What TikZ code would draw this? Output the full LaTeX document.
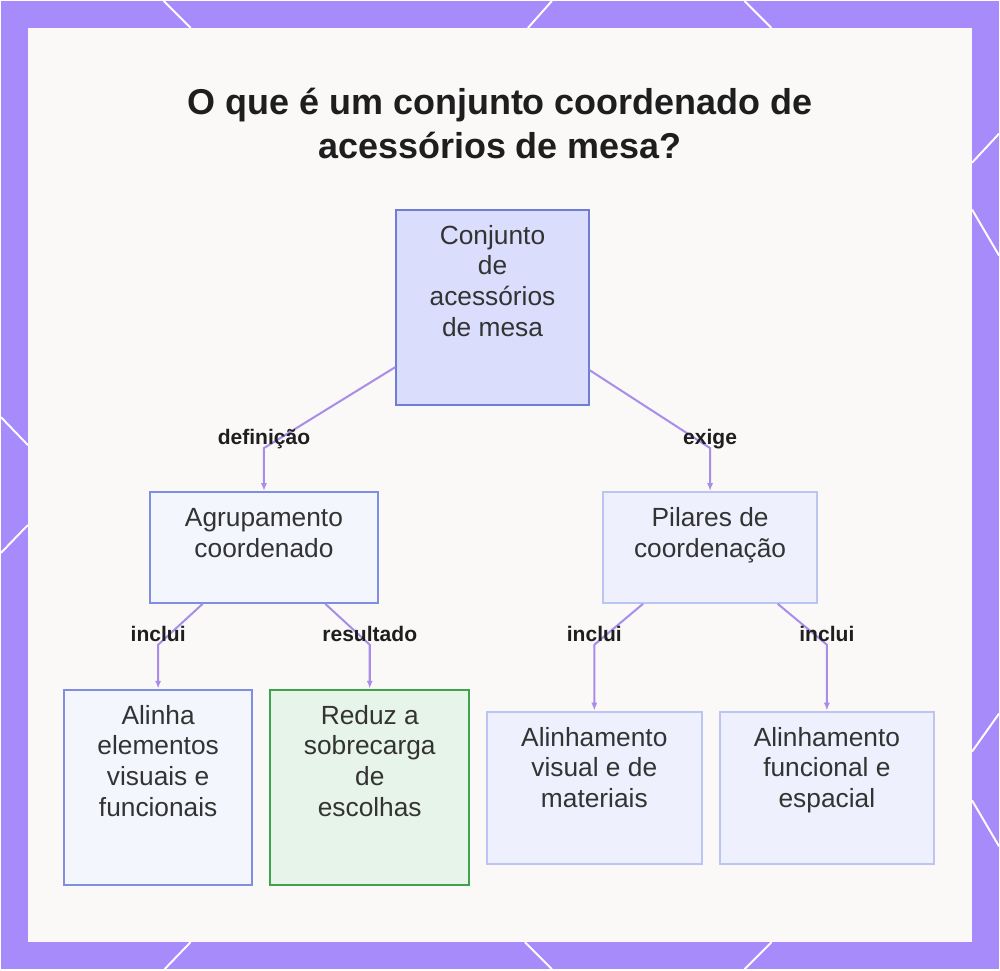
\documentclass[tikz,border=0pt]{standalone}
\usepackage{fontspec}
\setmainfont{Liberation Sans}
\usetikzlibrary{arrows.meta}
\definecolor{frame}{HTML}{A78BFA}
\definecolor{panel}{HTML}{FAF9F7}
\definecolor{conn}{HTML}{A98DEB}
\definecolor{ink}{HTML}{1E1E1E}
\definecolor{deepblue}{HTML}{6E7ED6}
\definecolor{deepfill}{HTML}{DADDFC}
\definecolor{midblue}{HTML}{7F8EE0}
\definecolor{midfill}{HTML}{F4F6FE}
\definecolor{paleblue}{HTML}{BCC5F2}
\definecolor{palefill}{HTML}{EEF0FD}
\definecolor{leafgreen}{HTML}{3FA24C}
\definecolor{leaffill}{HTML}{E7F4E9}
\begin{document}
\begin{tikzpicture}[x=0.02cm, y=-0.02cm,
    box/.style={draw, line width=1.15pt, anchor=north, align=flush center, text width=3.7cm, text height=0.42cm, inner xsep=0pt, inner ysep=0.27cm, font=\fontsize{15}{17.6}\selectfont, text=black!80},
    lbl/.style={font=\fontsize{12}{14}\selectfont\bfseries, text=ink, anchor=base, yshift=0.07cm, inner sep=0pt},
    link/.style={conn, line width=1.15pt, -{Latex[length=4.5pt,width=3.5pt]}}]
  \fill[frame] (0,0) rectangle (1000,970);
  \foreach \xa/\ya/\xb/\yb in {163/0/190/27, 552/0/528/27, 745/0/772/27, 190/943/164/970, 525/943/552/970, 772/943/745/970, 0/417/27/445, 27/525/0/553, 1000/133/973/162, 973/209/1000/255, 1000/714/973/752, 973/801/1000/847}
    \draw[white, line width=1.1pt] (\xa,\ya) -- (\xb,\yb);
  \fill[panel] (27,27) rectangle (973,943);
  \node[font=\fontsize{20.5}{25}\selectfont\bfseries, text=ink, align=center] (title) at (500,123) {O que é um conjunto coordenado de\\acessórios de mesa?};
  \node[box, draw=deepblue, fill=deepfill, minimum width=3.86cm, text depth=2.96cm] (conj) at (492.5,208) {Conjunto\\de\\acessórios\\de mesa};
  \node[box, draw=midblue, fill=midfill, minimum width=4.58cm, text depth=1.26cm] (agrup) at (263.5,491) {Agrupamento\\coordenado};
  \node[box, draw=paleblue, fill=palefill, minimum width=4.3cm, text depth=1.26cm] (pilares) at (710.5,491) {Pilares de\\coordenação};
  \node[box, draw=midblue, fill=midfill, minimum width=3.78cm, text depth=2.96cm] (alinha) at (157.5,689) {Alinha\\elementos\\visuais e\\funcionais};
  \node[box, draw=leafgreen, fill=leaffill, minimum width=3.98cm, text depth=2.96cm] (reduz) at (369.5,689) {Reduz a\\sobrecarga\\de\\escolhas};
  \node[box, draw=paleblue, fill=palefill, minimum width=4.3cm, text depth=2.1cm] (visual) at (594.5,711) {Alinhamento\\visual e de\\materiais};
  \node[box, draw=paleblue, fill=palefill, minimum width=4.3cm, text depth=2.1cm] (funcional) at (827.5,711) {Alinhamento\\funcional e\\espacial};
  \coordinate (kdef) at (263.5,448);
  \coordinate (kexi) at (710.5,448);
  \coordinate (kinc) at (157.5,645);
  \coordinate (kres) at (369.5,645);
  \coordinate (kvis) at (594.5,645);
  \coordinate (kfun) at (827.5,645);
  \draw[link] (conj) -- (kdef) -- (agrup);
  \draw[link] (conj) -- (kexi) -- (pilares);
  \draw[link] (agrup) -- (kinc) -- (alinha);
  \draw[link] (agrup) -- (kres) -- (reduz);
  \draw[link] (pilares) -- (kvis) -- (visual);
  \draw[link] (pilares) -- (kfun) -- (funcional);
  \node[lbl] (ldef) at (kdef) {definição};
  \node[lbl] (lexi) at (kexi) {exige};
  \node[lbl] (linc) at (kinc) {inclui};
  \node[lbl] (lres) at (kres) {resultado};
  \node[lbl] (lvis) at (kvis) {inclui};
  \node[lbl] (lfun) at (kfun) {inclui};
\end{tikzpicture}
\end{document}
